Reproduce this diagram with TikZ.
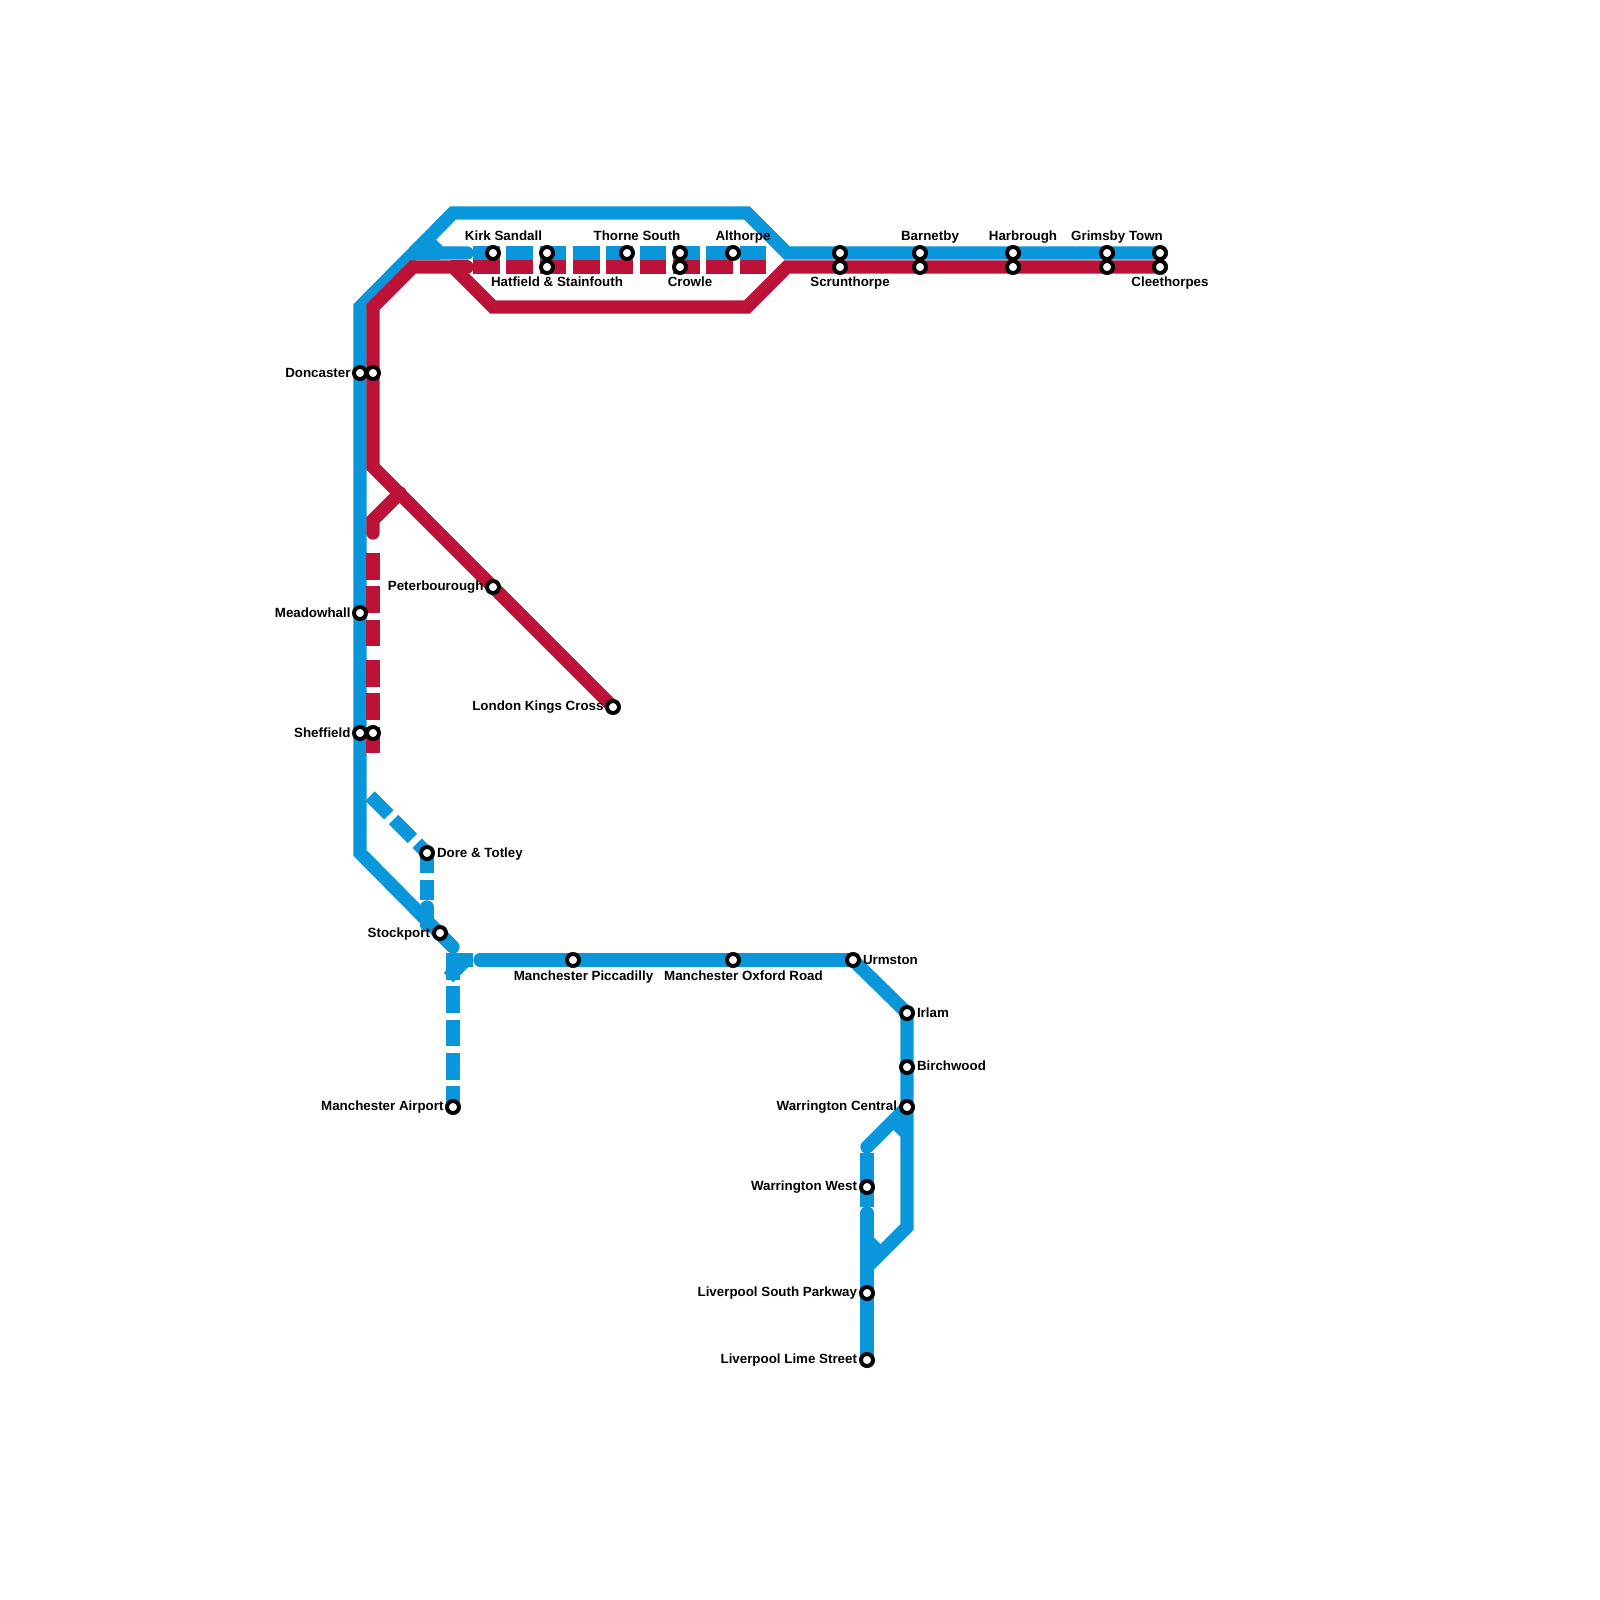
\documentclass[tikz,border=0pt]{standalone}
\usepackage{fontspec}
\setmainfont{Liberation Sans}
\definecolor{lineblue}{HTML}{0996DA}
\definecolor{linered}{HTML}{BC1238}
\pgfdeclarelayer{lines}
\pgfsetlayers{lines,main}
\tikzset{
  stn/.style={circle,draw=black,fill=white,line width=2pt,minimum size=6pt,inner sep=0pt},
  lab/.style={inner sep=0pt,outer sep=0pt,yshift=-0.5pt,font=\bfseries\fontsize{6.67pt}{7pt}\selectfont,text=black,text height=4.8pt,text depth=0pt},
  bl/.style={draw=lineblue,line width=6.67pt,miter limit=10},
  rd/.style={draw=linered,line width=6.67pt,miter limit=10},
  dsh/.style={dash pattern=on 13.33pt off 3.33pt},
  rnd/.style={line cap=round}
}
\begin{document}
\begin{tikzpicture}[x=0.5pt,y=-0.5pt]
\useasboundingbox (0,0) rectangle (1600,1600);
% stations
\node[stn] (donA) at (360,373) {};
\node[stn] (donB) at (373,373) {};
\node[stn] (mea) at (360,613) {};
\node[stn] (sheA) at (360,733) {};
\node[stn] (sheB) at (373,733) {};
\node[stn] (pet) at (493,587) {};
\node[stn] (lkc) at (613,707) {};
\node[stn] (kir) at (493,253) {};
\node[stn] (hatA) at (547,253) {};
\node[stn] (hatB) at (547,267) {};
\node[stn] (tho) at (627,253) {};
\node[stn] (croA) at (680,253) {};
\node[stn] (croB) at (680,267) {};
\node[stn] (alt) at (733,253) {};
\node[stn] (scuA) at (840,253) {};
\node[stn] (scuB) at (840,267) {};
\node[stn] (barA) at (920,253) {};
\node[stn] (barB) at (920,267) {};
\node[stn] (harA) at (1013,253) {};
\node[stn] (harB) at (1013,267) {};
\node[stn] (griA) at (1107,253) {};
\node[stn] (griB) at (1107,267) {};
\node[stn] (cleA) at (1160,253) {};
\node[stn] (cleB) at (1160,267) {};
\node[stn] (dor) at (427,853) {};
\node[stn] (sto) at (440,933) {};
\node[stn] (pic) at (573,960) {};
\node[stn] (oxf) at (733,960) {};
\node[stn] (urm) at (853,960) {};
\node[stn] (irl) at (907,1013) {};
\node[stn] (bir) at (907,1067) {};
\node[stn] (wac) at (907,1107) {};
\node[stn] (waw) at (867,1187) {};
\node[stn] (lsp) at (867,1293) {};
\node[stn] (lim) at (867,1360) {};
\node[stn] (air) at (453,1107) {};
% labels
\node[lab,anchor=east] (tdon) at (350.5,372) {Doncaster};
\node[lab,anchor=east] (tmea) at (350.5,612) {Meadowhall};
\node[lab,anchor=east] (tshe) at (350.5,732) {Sheffield};
\node[lab,anchor=east] (tpet) at (483.5,585) {Peterbourough};
\node[lab,anchor=east] (tlkc) at (603.5,705) {London Kings Cross};
\node[lab] (tkir) at (503.5,235) {Kirk Sandall};
\node[lab] (that) at (557,281) {Hatfield \& Stainfouth};
\node[lab] (ttho) at (637,235) {Thorne South};
\node[lab] (tcro) at (690,281) {Crowle};
\node[lab] (talt) at (743,235) {Althorpe};
\node[lab] (tscu) at (850,281) {Scrunthorpe};
\node[lab] (tbar) at (930,235) {Barnetby};
\node[lab] (thar) at (1023,235) {Harbrough};
\node[lab] (tgri) at (1117,235) {Grimsby Town};
\node[lab] (tcle) at (1170,281) {Cleethorpes};
\node[lab,anchor=west] (tdor) at (437,852) {Dore \& Totley};
\node[lab,anchor=east] (tsto) at (430,932) {Stockport};
\node[lab] (tpic) at (583.5,975) {Manchester Piccadilly};
\node[lab] (toxf) at (743.5,975) {Manchester Oxford Road};
\node[lab,anchor=west] (turm) at (863,959) {Urmston};
\node[lab,anchor=west] (tirl) at (917,1012) {Irlam};
\node[lab,anchor=west] (tbir) at (917,1065) {Birchwood};
\node[lab,anchor=east] (twac) at (897,1105) {Warrington Central};
\node[lab,anchor=east] (twaw) at (857,1185) {Warrington West};
\node[lab,anchor=east] (tlsp) at (857,1291) {Liverpool South Parkway};
\node[lab,anchor=east] (tlim) at (857,1358) {Liverpool Lime Street};
\node[lab,anchor=east] (tair) at (443.5,1105) {Manchester Airport};
% free coordinates
\coordinate (b1) at (360,853);
\coordinate (b2) at (453,947);
\coordinate (b2a) at (443,937);
\coordinate (b3) at (360,307);
\coordinate (b4) at (453,213);
\coordinate (b5) at (747,213);
\coordinate (b6) at (787,253);
\coordinate (s0) at (413,253);
\coordinate (s1) at (427,240);
\coordinate (s2) at (440,253);
\coordinate (s3) at (467,253);
\coordinate (d1) at (473,253);
\coordinate (d2) at (767,253);
\coordinate (e1) at (473,267);
\coordinate (e2) at (767,267);
\coordinate (r1) at (373,467);
\coordinate (r2) at (373,307);
\coordinate (r3) at (413,267);
\coordinate (r4) at (453,267);
\coordinate (r5) at (493,307);
\coordinate (r6) at (747,307);
\coordinate (r7) at (787,267);
\coordinate (r8) at (467,267);
\coordinate (j1) at (400,493);
\coordinate (j2) at (373,520);
\coordinate (j3) at (373,533);
\coordinate (v1) at (373,553);
\coordinate (v2) at (373,647);
\coordinate (v3) at (373,660);
\coordinate (v4) at (373,753);
\coordinate (k1) at (370,796);
\coordinate (k2) at (427,900);
\coordinate (k3) at (427,907);
\coordinate (k4) at (427,925);
\coordinate (m1) at (480,960);
\coordinate (m2) at (447,960);
\coordinate (m3) at (473,960);
\coordinate (m4) at (466,960);
\coordinate (m5) at (448.5,977.5);
\coordinate (a1) at (453,953);
\coordinate (w1) at (907,1227);
\coordinate (w2) at (867,1267);
\coordinate (w3) at (867,1213);
\coordinate (w4) at (867,1240);
\coordinate (w5) at (882,1255);
\coordinate (w6) at (867,1147);
\coordinate (w7) at (907,1107);
\coordinate (w8) at (893,1120);
\coordinate (w9) at (907,1134);
\coordinate (w10) at (867,1153);
\coordinate (w11) at (867,1207);
\begin{pgfonlayer}{lines}
\fill[white] (0,0) rectangle (1600,1600);
% blue
\draw[bl] (b2) -- (b1) -- (b3) -- (b4) -- (b5) -- (b6) -- (cleA.center);
\draw[bl,rnd] (b2) -- (b2a);
\draw[bl] (s0) -- (s2);
\draw[bl,rnd,line join=miter] (s1) -- (s2) -- (s3);
\draw[bl,dsh] (d1) -- (d2);
\draw[bl,dsh] (k1) -- (dor.center);
\draw[bl,dash pattern=on 10pt off 3.33pt] (dor.center) -- (k2);
\draw[bl,rnd] (k3) -- (k4);
\draw[bl,rnd] (m1) -- (urm.center);
\draw[bl] (urm.center) -- (irl.center) -- (w1) -- (w2);
\draw[bl] (m2) -- (m3);
\draw[bl] (m4) -- (m5);
\draw[bl,dsh] (a1) -- (air.center);
\draw[bl,rnd] (w3) -- (lim.center);
\draw[bl] (w4) -- (w5);
\draw[bl,rnd] (w6) -- (w7);
\draw[bl] (w8) -- (w9);
\draw[bl] (w10) -- (w11);
% red
\draw[rd] (lkc.center) -- (r1) -- (r2) -- (r3) -- (r4) -- (r5) -- (r6) -- (r7) -- (cleB.center);
\draw[rd,rnd] (r4) -- (r8);
\draw[rd,dsh] (e1) -- (e2);
\draw[rd,rnd,line join=miter] (j1) -- (j2) -- (j3);
\draw[rd,dsh] (v1) -- (v2);
\draw[rd,dsh] (v3) -- (v4);
\end{pgfonlayer}
\end{tikzpicture}
\end{document}
